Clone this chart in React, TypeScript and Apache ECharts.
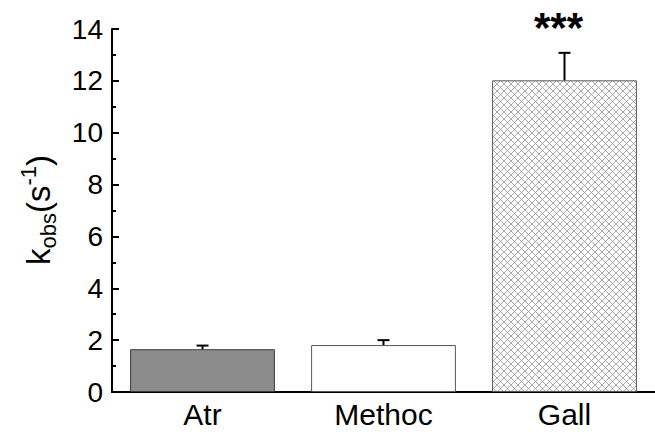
import React, { useEffect, useRef } from "react";
import * as echarts from "echarts";

const categories = ["Atr", "Methoc", "Gall"];
const means = [1.65, 1.81, 12.02];
const errors = [0.14, 0.19, 1.06];
const significance = ["", "", "***"];
const yTicks = { min: 0, max: 14, interval: 2 };

const FONT = "'Liberation Sans', Arial, Helvetica, sans-serif";

function makeHatch(): HTMLCanvasElement {
  const c = document.createElement("canvas");
  const s = 7;
  c.width = s;
  c.height = s;
  const ctx = c.getContext("2d")!;
  ctx.fillStyle = "#ffffff";
  ctx.fillRect(0, 0, s, s);
  ctx.strokeStyle = "#959595";
  ctx.lineWidth = 0.8;
  ctx.beginPath();
  ctx.moveTo(0, 0);
  ctx.lineTo(s, s);
  ctx.moveTo(s, 0);
  ctx.lineTo(0, s);
  ctx.stroke();
  return c;
}

export default function App() {
  const ref = useRef<HTMLDivElement>(null);
  useEffect(() => {
    if (!ref.current) return;
    const chart = echarts.init(ref.current, undefined, { renderer: "svg" });
    const hatch = makeHatch();
    const fills: any[] = [
      { color: "#8c8c8c", borderColor: "#3a3a3a", borderWidth: 1 },
      { color: "#ffffff", borderColor: "#555555", borderWidth: 1 },
      { color: { image: hatch, repeat: "repeat" }, borderColor: "#555555", borderWidth: 1 },
    ];
    chart.setOption({
      animation: false,
      backgroundColor: "#ffffff",
      grid: { left: 112, right: -8, top: 29, bottom: 40, containLabel: false },
      graphic: [
        {
          type: "text",
          x: 38,
          y: 210,
          rotation: Math.PI / 2,
          style: {
            text: "{m|k}{sub|obs}{m|(s}{sup|-1}{m|)}",
            align: "center",
            verticalAlign: "middle",
            fill: "#000",
            rich: {
              m: { fontSize: 33, fontFamily: FONT, fill: "#000", lineHeight: 42, verticalAlign: "middle" },
              sub: { fontSize: 22, fontFamily: FONT, fill: "#000", lineHeight: 23, verticalAlign: "bottom" },
              sup: { fontSize: 22, fontFamily: FONT, fill: "#000", lineHeight: 23, verticalAlign: "top" },
            },
          },
        },
      ],
      xAxis: {
        type: "category",
        data: categories,
        boundaryGap: true,
        axisLine: { lineStyle: { color: "#000", width: 2 } },
        axisTick: { alignWithLabel: true, length: 7, lineStyle: { color: "#000", width: 2 } },
        axisLabel: { fontSize: 30, lineHeight: 26, fontFamily: FONT, color: "#000", margin: 9 },
        splitLine: { show: false },
      },
      yAxis: {
        type: "value",
        min: yTicks.min,
        max: yTicks.max,
        interval: yTicks.interval,
        axisLine: { show: true, lineStyle: { color: "#000", width: 2 } },
        axisTick: { show: true, inside: true, length: 7, lineStyle: { color: "#000", width: 2 } },
        minorTick: { show: true, splitNumber: 2, length: 4, lineStyle: { color: "#000", width: 2 } },
        axisLabel: { fontSize: 28, fontFamily: FONT, color: "#000", margin: 9 },
        splitLine: { show: false },
      },
      series: [
        {
          type: "bar",
          barWidth: "80%",
          data: means.map((v, i) => ({ value: v, itemStyle: fills[i] })),
          z: 2,
        },
        {
          type: "custom",
          z: 5,
          data: means.map((v, i) => [i, v, v + errors[i]]),
          renderItem: (params: any, api: any) => {
            const x = api.value(0);
            const base = api.coord([x, api.value(1)]);
            const top = api.coord([x, api.value(2)]);
            const children: any[] = [
              { type: "line", shape: { x1: base[0], y1: base[1], x2: top[0], y2: top[1] }, style: { stroke: "#000", lineWidth: 2 } },
              { type: "line", shape: { x1: top[0] - 6, y1: top[1], x2: top[0] + 6, y2: top[1] }, style: { stroke: "#000", lineWidth: 2 } },
            ];
            const sig = significance[params.dataIndex];
            if (sig) {
              children.push({
                type: "text",
                x: top[0] - 6,
                y: top[1] - 25,
                style: { text: sig, fontSize: 42, fontWeight: "bold", fontFamily: FONT, fill: "#000", align: "center", verticalAlign: "middle" },
              });
            }
            return { type: "group", children };
          },
        },
      ],
    });
    return () => chart.dispose();
  }, []);
  return <div ref={ref} style={{ position: "absolute", left: 0, top: 0, width: 655, height: 432 }} />;
}
